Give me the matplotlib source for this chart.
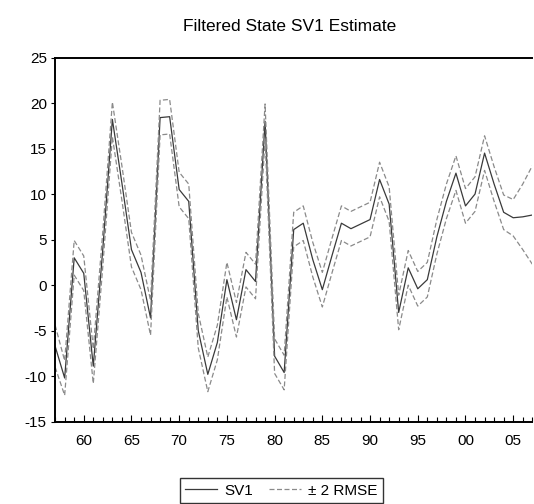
import numpy as np
import matplotlib.pyplot as plt
from matplotlib.ticker import MultipleLocator, FuncFormatter

plt.rcParams['font.family'] = ['Liberation Sans', 'DejaVu Sans']
plt.rcParams['axes.unicode_minus'] = False

years = np.arange(1957, 2008)
sv1 = [-6.7, -10.2, 3.0, 1.3, -8.9, 4.0, 18.2, 11.2, 3.9, 1.4,
       -3.6, 18.4, 18.5, 10.5, 9.2, -5.0, -9.8, -6.3, 0.6, -3.8,
       1.7, 0.4, 18.0, -7.8, -9.6, 6.1, 6.8, 2.8, -0.5, 3.2,
       6.8, 6.2, 6.7, 7.2, 11.6, 8.9, -3.0, 1.9, -0.4, 0.6,
       5.3, 9.2, 12.3, 8.7, 10.0, 14.5, 11.1, 8.0, 7.4, 7.5,
       7.7]
# 2 x RMSE per year (half width of the band)
band = [2.3, 1.9, 1.9, 1.9, 1.9, 1.9, 1.9, 1.9, 1.9, 1.9,
        1.9, 1.9, 1.9, 1.9, 1.9, 1.9, 1.9, 1.9, 1.9, 1.9,
        1.9, 1.9, 1.9, 1.9, 1.9, 1.9, 1.9, 1.9, 1.9, 1.9,
        1.9, 1.9, 1.9, 1.9, 1.9, 1.9, 1.9, 1.9, 1.9, 1.9,
        1.9, 1.9, 1.9, 1.9, 1.9, 1.9, 1.9, 1.9, 2.0, 3.6,
        5.4]

sv1 = np.array(sv1)
band = np.array(band)

fig = plt.figure(figsize=(5.34, 5.04), dpi=100)
ax = fig.add_axes([0.1032, 0.1633, 0.8936, 0.7226])

ax.plot(years, sv1, color='#3a3a3a', lw=0.9, label='SV1')
ax.plot(years, sv1 + band, color='#8a8a8a', lw=0.9,
        dashes=(4, 2), label='± 2 RMSE')
ax.plot(years, sv1 - band, color='#8a8a8a', lw=0.9, dashes=(4, 2))

ax.set_xlim(1957, 2007)
ax.set_ylim(-15, 25)
ax.yaxis.set_major_locator(MultipleLocator(5))
ax.xaxis.set_major_locator(MultipleLocator(5))
ax.xaxis.set_minor_locator(MultipleLocator(1))
ax.xaxis.set_major_formatter(FuncFormatter(lambda v, p: f'{int(round(v)) % 100:02d}'))

ax.tick_params(axis='x', which='major', direction='in', length=5, width=0.8,
               labelsize=11, pad=9)
ax.tick_params(axis='x', which='minor', direction='in', length=3.5, width=0.8)
ax.tick_params(axis='y', direction='out', length=3, width=0.8, labelsize=11, pad=3)

for s in ['left', 'bottom', 'top']:
    ax.spines[s].set_linewidth(1.4)
ax.spines['right'].set_visible(False)

fig.text(0.543, 0.947, 'Filtered State SV1 Estimate', ha='center', va='center',
         fontsize=12.5)

leg = fig.legend(loc='lower center', bbox_to_anchor=(0.527, 0.002), ncol=2,
                 fontsize=11, frameon=True, fancybox=False, handlelength=2.1,
                 columnspacing=1.0, borderpad=0.35, handletextpad=0.5,
                 borderaxespad=0)
leg.get_frame().set_edgecolor('black')
leg.get_frame().set_linewidth(1.0)

fig.savefig('out.png', dpi=100)
